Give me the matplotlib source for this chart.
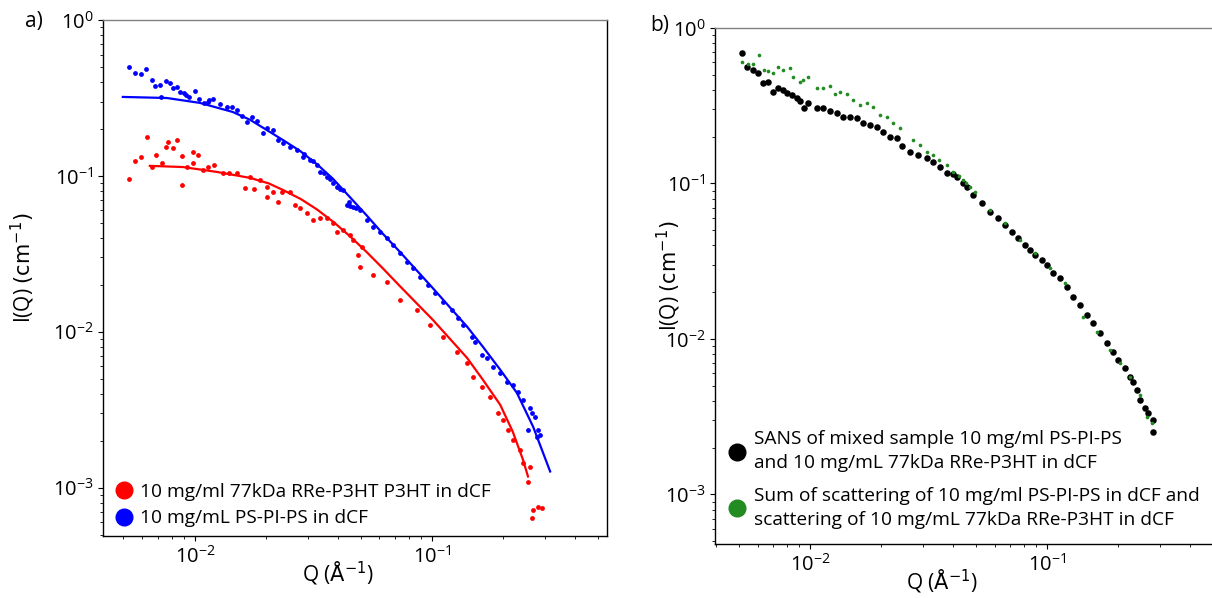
import matplotlib
matplotlib.use("Agg")
import matplotlib.pyplot as plt
from matplotlib.lines import Line2D

plt.rcParams['font.family'] = ['Open Sans', 'DejaVu Sans']
plt.rcParams['mathtext.fontset'] = 'dejavusans'

# panel a) - PS-PI-PS (blue) data and fit
q_blue = [0.00527, 0.00558, 0.00592, 0.00621, 0.00658, 0.00678, 0.00718, 0.00712, 0.00755, 0.00784,
          0.00808, 0.00839, 0.00864, 0.0090, 0.00916, 0.00943, 0.0100, 0.0104, 0.0109, 0.0115, 0.01135,
          0.0119, 0.01275, 0.01365, 0.0143, 0.0150, 0.0158, 0.0166, 0.0174, 0.0183, 0.0194, 0.0201,
          0.0213, 0.0224, 0.0235, 0.0252, 0.0269, 0.0285, 0.0290, 0.0305, 0.0315, 0.0327, 0.0337,
          0.0350, 0.0361, 0.0372, 0.0382, 0.0397, 0.0410, 0.0421, 0.0437, 0.0445, 0.0450, 0.0464,
          0.0478, 0.0496, 0.0532, 0.0564, 0.0604, 0.0646, 0.0685, 0.0733, 0.0785, 0.0831, 0.0890,
          0.0962, 0.103, 0.111, 0.121, 0.129, 0.135, 0.1475, 0.152, 0.163, 0.170, 0.181, 0.194, 0.207,
          0.219, 0.230, 0.242, 0.259, 0.264, 0.272, 0.254, 0.280, 0.286, 0.278]
i_blue = [0.500, 0.457, 0.451, 0.485, 0.413, 0.378, 0.321, 0.383, 0.406, 0.395,
          0.367, 0.372, 0.345, 0.338, 0.331, 0.321, 0.350, 0.312, 0.294, 0.305, 0.298,
          0.312, 0.289, 0.277, 0.277, 0.265, 0.242, 0.222, 0.239, 0.225, 0.189, 0.203,
          0.197, 0.170, 0.163, 0.153, 0.147, 0.132, 0.138, 0.127, 0.124, 0.118, 0.106,
          0.104, 0.0986, 0.096, 0.0902, 0.0850, 0.083, 0.0813, 0.0652, 0.068, 0.0645, 0.0633,
          0.062, 0.0605, 0.0522, 0.0471, 0.0438, 0.0401, 0.0361, 0.0321, 0.0281, 0.0257, 0.0225,
          0.0200, 0.0178, 0.0156, 0.0138, 0.0123, 0.0111, 0.00929, 0.00863, 0.00713, 0.00681, 0.00597,
          0.00546, 0.00478, 0.00457, 0.00412, 0.00366, 0.00326, 0.00303, 0.00285, 0.00235, 0.00235,
          0.00219, 0.00212]
q_blue_fit = [0.00497, 0.00762, 0.0105, 0.01446, 0.0171, 0.0201, 0.0235, 0.0277, 0.0327, 0.0382,
              0.0451, 0.0532, 0.0621, 0.0733, 0.101, 0.1405, 0.164, 0.194, 0.228, 0.267, 0.315]
i_blue_fit = [0.321, 0.316, 0.294, 0.257, 0.229, 0.197, 0.170, 0.145, 0.119, 0.096,
              0.073, 0.0555, 0.0425, 0.0325, 0.0190, 0.0108, 0.00801, 0.00571, 0.00406, 0.00246, 0.00127]

# panel a) - RRe-P3HT (red) data and fit
q_red = [0.00527, 0.00558, 0.00592, 0.00627, 0.00658, 0.00685, 0.00726, 0.00755, 0.00769, 0.00808,
         0.00839, 0.00881, 0.00881, 0.00925, 0.00981, 0.00981, 0.0103, 0.0108, 0.01135, 0.0121,
         0.0131, 0.0140, 0.0150, 0.0163, 0.0171, 0.0177, 0.0188, 0.0201, 0.0201, 0.0213,
         0.0224, 0.0233, 0.0252, 0.0264, 0.0277, 0.0297, 0.0314, 0.0337, 0.0361, 0.0382,
         0.0397, 0.0421, 0.0451, 0.0464, 0.0487, 0.0496, 0.0507, 0.0564, 0.0646, 0.0733,
         0.0864, 0.0981, 0.111, 0.127, 0.1405, 0.149, 0.163, 0.176, 0.190, 0.199,
         0.209, 0.219, 0.235, 0.242, 0.259, 0.254, 0.267, 0.280, 0.264, 0.291]
i_red = [0.0957, 0.125, 0.132, 0.178, 0.114, 0.136, 0.121, 0.153, 0.165, 0.151,
         0.170, 0.134, 0.0876, 0.114, 0.143, 0.121, 0.136, 0.109, 0.114, 0.118,
         0.1045, 0.1045, 0.1045, 0.0838, 0.0986, 0.0826, 0.0943, 0.0850, 0.0733, 0.0789,
         0.0681, 0.0789, 0.0789, 0.0652, 0.0623, 0.0579, 0.0522, 0.0538, 0.0538, 0.0500,
         0.0438, 0.0451, 0.0419, 0.0389, 0.0312, 0.0261, 0.0351, 0.0232, 0.0209, 0.0160,
         0.0138, 0.0111, 0.00929, 0.00745, 0.00633, 0.00515, 0.00444, 0.00383, 0.00303, 0.00273,
         0.00235, 0.00203, 0.00175, 0.00145, 0.00136, 0.00108, 0.000723, 0.000755, 0.000643, 0.000744]
q_red_fit = [0.00646, 0.0089, 0.0124, 0.0171, 0.0205, 0.0235, 0.0280, 0.0327, 0.0385, 0.0451,
             0.0530, 0.0621, 0.0733, 0.101, 0.1405, 0.164, 0.194, 0.219, 0.242, 0.254]
i_red_fit = [0.116, 0.114, 0.106, 0.0971, 0.0895, 0.0813, 0.0710, 0.0610, 0.0505, 0.0410,
             0.0325, 0.0255, 0.0196, 0.0119, 0.00681, 0.00492, 0.00340, 0.00229, 0.00151, 0.00118]

# panel b) - mixed sample (black) and sum of the two (green)
q_mix = [0.00516, 0.00542, 0.00575, 0.00603, 0.00634, 0.00665, 0.00698, 0.00733, 0.00769, 0.0080,
         0.00839, 0.00881, 0.00907, 0.00943, 0.00981, 0.0107, 0.01135, 0.0121, 0.0130, 0.0138,
         0.01475, 0.0158, 0.0167, 0.0179, 0.0192, 0.0203, 0.0218, 0.0233, 0.0245, 0.0264,
         0.0285, 0.0312, 0.0330, 0.0354, 0.0379, 0.0400, 0.0417, 0.0440, 0.0460, 0.0487,
         0.0532, 0.0575, 0.0621, 0.0665, 0.0712, 0.0755, 0.0808, 0.0848, 0.0890, 0.0953,
         0.100, 0.106, 0.1135, 0.121, 0.129, 0.138, 0.1475, 0.156, 0.167, 0.179,
         0.190, 0.199, 0.213, 0.224, 0.230, 0.240, 0.247, 0.259, 0.267, 0.280, 0.280]
i_mix = [0.690, 0.561, 0.537, 0.514, 0.443, 0.450, 0.388, 0.411, 0.399, 0.382,
         0.371, 0.355, 0.340, 0.306, 0.330, 0.306, 0.306, 0.293, 0.284, 0.268,
         0.268, 0.264, 0.245, 0.238, 0.231, 0.214, 0.199, 0.196, 0.175, 0.159,
         0.152, 0.146, 0.138, 0.128, 0.117, 0.115, 0.110, 0.101, 0.0950, 0.0843,
         0.0749, 0.0656, 0.0600, 0.0541, 0.0488, 0.0446, 0.0402, 0.0374, 0.0347, 0.0322,
         0.0299, 0.0266, 0.0247, 0.0216, 0.0186, 0.0166, 0.0143, 0.0127, 0.0109, 0.00942,
         0.00825, 0.00733, 0.00651, 0.00570, 0.00529, 0.00470, 0.00405, 0.00360, 0.00334, 0.00301, 0.00252]
q_sum = [0.00516, 0.00547, 0.00575, 0.00609, 0.0064, 0.00665, 0.00698, 0.00733, 0.00769, 0.00823,
         0.00848, 0.00907, 0.00934, 0.00981, 0.0107, 0.01135, 0.0121, 0.01275, 0.0134, 0.0143,
         0.0152, 0.0163, 0.0174, 0.01845, 0.0197, 0.0211, 0.0224, 0.0240, 0.0272, 0.0291,
         0.0310, 0.0330, 0.0350, 0.0379, 0.0401, 0.0425, 0.0442, 0.0455, 0.0473, 0.0496,
         0.0575, 0.0665, 0.0769, 0.0890, 0.103, 0.119, 0.142, 0.163, 0.184, 0.203,
         0.224, 0.247, 0.264, 0.278]
i_sum = [0.604, 0.587, 0.587, 0.670, 0.537, 0.529, 0.514, 0.561, 0.537, 0.553,
         0.484, 0.450, 0.463, 0.484, 0.411, 0.411, 0.424, 0.376, 0.388, 0.376,
         0.344, 0.320, 0.330, 0.310, 0.276, 0.268, 0.245, 0.2275, 0.1905, 0.177,
         0.160, 0.1525, 0.142, 0.1315, 0.1186, 0.112, 0.1053, 0.100, 0.0950, 0.0882,
         0.0676, 0.0557, 0.0433, 0.0357, 0.0286, 0.0229, 0.01385, 0.0111, 0.00850, 0.00701,
         0.00570, 0.00436, 0.00315, 0.00288]

labels_a = ['10 mg/ml 77kDa RRe-P3HT P3HT in dCF', '10 mg/mL PS-PI-PS in dCF']
labels_b = ['SANS of mixed sample 10 mg/ml PS-PI-PS\nand 10 mg/mL 77kDa RRe-P3HT in dCF',
            'Sum of scattering of 10 mg/ml PS-PI-PS in dCF and\nscattering of 10 mg/mL 77kDa RRe-P3HT in dCF']

W, H = 1212, 598
fig = plt.figure(figsize=(W / 100, H / 100), dpi=100)
ax1 = fig.add_axes([103 / W, 62 / H, 504 / W, 516 / H])
ax2 = fig.add_axes([715 / W, 54 / H, 507 / W, 516 / H])

for ax in (ax1, ax2):
    ax.set_xscale('log')
    ax.set_yscale('log')
    ax.tick_params(labelsize=14.5)
    ax.spines['top'].set_color('#808080')
    for s in ax.spines.values():
        s.set_linewidth(1.0)
    ax.set_xlabel(r'Q ($\mathrm{\AA}^{-1}$)', fontsize=15)
    ax.set_ylabel(r'I(Q) $(\mathrm{cm}^{-1})$', fontsize=15)

ax1.set_xlim(0.0041, 0.547)
ax1.set_ylim(4.9e-4, 1.0)
ax2.set_xlim(0.00397, 0.547)
ax2.set_ylim(4.8e-4, 1.0)

# panel a
ax1.scatter(q_red, i_red, s=12, color='red', linewidths=0)
ax1.scatter(q_blue, i_blue, s=12, color='blue', linewidths=0)
ax1.plot(q_red_fit, i_red_fit, color='red', lw=1.6)
ax1.plot(q_blue_fit, i_blue_fit, color='blue', lw=1.6)
h_a = [Line2D([], [], ls='none', marker='o', ms=12, color='red'),
       Line2D([], [], ls='none', marker='o', ms=12, color='blue')]
ax1.legend(h_a, labels_a, loc='lower left', bbox_to_anchor=(0.013, 0.004),
           frameon=False, fontsize=13.8,
           handlelength=0.8, handletextpad=0.45, labelspacing=0.45,
           borderpad=0.1, borderaxespad=0.25)

# panel b
ax2.scatter(q_mix, i_mix, s=22, color='black', linewidths=0)
ax2.scatter(q_sum, i_sum, s=7, color='forestgreen', linewidths=0)
h_b = [Line2D([], [], ls='none', marker='o', ms=12, color='black'),
       Line2D([], [], ls='none', marker='o', ms=12, color='forestgreen')]
leg_b = ax2.legend(h_b, labels_b, loc='lower left', bbox_to_anchor=(0.014, 0.014),
                   frameon=False, fontsize=13.8,
                   handlelength=0.8, handletextpad=0.45, labelspacing=0.75,
                   borderpad=0.1, borderaxespad=0.3)
for t in leg_b.get_texts():
    t.set_linespacing(1.45)

ax1.xaxis.set_label_coords(0.466, -0.045)
ax2.xaxis.set_label_coords(0.448, -0.045)
ax1.yaxis.set_label_coords(-0.13, 0.52)
ax2.yaxis.set_label_coords(-0.063, 0.52)

fig.text(25 / W, 1 - 22 / H, 'a)', fontsize=15, va='center')
fig.text(650 / W, 1 - 25 / H, 'b)', fontsize=15, va='center')

fig.savefig('out.png', dpi=100)
